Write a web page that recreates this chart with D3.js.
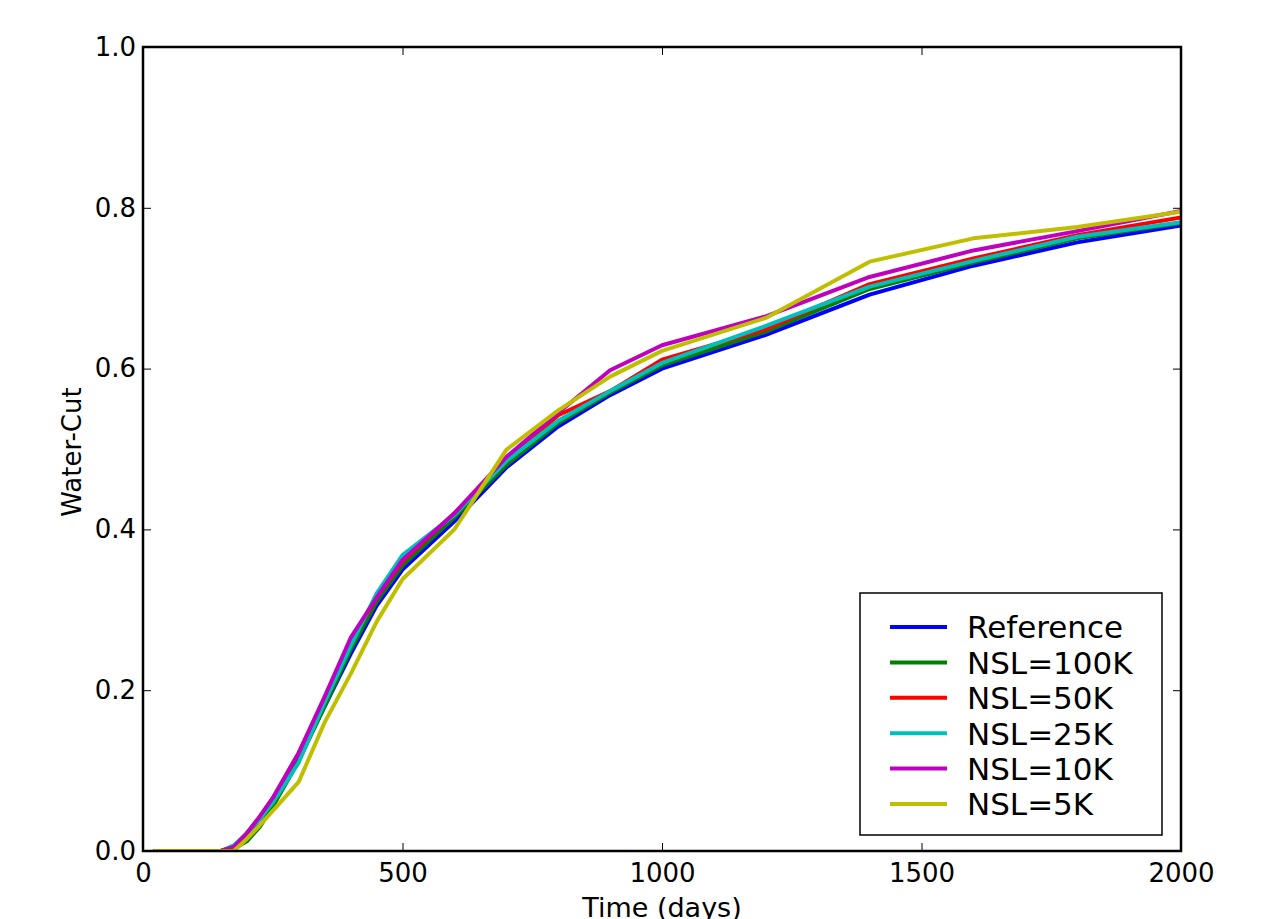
<!DOCTYPE html>
<html>
<head>
<meta charset="utf-8">
<script src="https://cdn.jsdelivr.net/npm/d3@7"></script>
<style>
  html, body { margin: 0; padding: 0; background: #fff; }
  svg { display: block; font-family: "DejaVu Sans", sans-serif; }
</style>
</head>
<body>
<div id="chart"></div>
<script>
// Water-cut vs time for the reference run and several NSL settings.
const times = [20, 50, 100, 150, 175, 200, 225, 250, 300, 350, 400, 450, 500, 600, 700, 800, 900, 1000, 1200, 1400, 1600, 1800, 2000];

const reference = [0, 0, 0, 0, 0.005, 0.020, 0.040, 0.060, 0.115, 0.180, 0.245, 0.305, 0.350, 0.410, 0.477, 0.528, 0.567, 0.600, 0.642, 0.692, 0.728, 0.757, 0.778];
const nsl100k  = [0, 0, 0, 0, 0.003, 0.012, 0.030, 0.055, 0.112, 0.180, 0.250, 0.310, 0.355, 0.415, 0.480, 0.532, 0.570, 0.604, 0.646, 0.699, 0.732, 0.762, 0.781];
const nsl50k   = [0, 0, 0, 0, 0.005, 0.022, 0.042, 0.065, 0.122, 0.190, 0.260, 0.315, 0.360, 0.420, 0.485, 0.542, 0.572, 0.611, 0.649, 0.705, 0.737, 0.766, 0.788];
const nsl25k   = [0, 0, 0, 0, 0.007, 0.022, 0.040, 0.060, 0.110, 0.185, 0.255, 0.320, 0.368, 0.418, 0.485, 0.535, 0.572, 0.607, 0.653, 0.702, 0.734, 0.764, 0.782];
const nsl10k   = [0, 0, 0, 0, 0.005, 0.022, 0.043, 0.066, 0.122, 0.192, 0.265, 0.315, 0.362, 0.420, 0.490, 0.545, 0.598, 0.629, 0.665, 0.714, 0.747, 0.771, 0.796];
const nsl5k    = [0, 0, 0, 0, 0, 0.015, 0.032, 0.050, 0.086, 0.160, 0.220, 0.285, 0.338, 0.400, 0.499, 0.548, 0.590, 0.622, 0.663, 0.733, 0.762, 0.776, 0.795];

const seriesNames = ["Reference", "NSL=100K", "NSL=50K", "NSL=25K", "NSL=10K", "NSL=5K"];
const seriesValues = [reference, nsl100k, nsl50k, nsl25k, nsl10k, nsl5k];
const seriesColors = ["#0000ff", "#008000", "#ff0000", "#00bfbf", "#bf00bf", "#bfbf00"];

const xTicks = [0, 500, 1000, 1500, 2000];
const yTicks = [0, 0.2, 0.4, 0.6, 0.8, 1.0];

const width = 1267, height = 919;
const margin = { left: 143, right: 1181, top: 47, bottom: 851 };

const svg = d3.select("#chart").append("svg")
    .attr("width", width)
    .attr("height", height);

svg.append("rect").attr("width", width).attr("height", height).attr("fill", "#fff");

const x = d3.scaleLinear().domain([0, 2000]).range([margin.left, margin.right]);
const y = d3.scaleLinear().domain([0, 1]).range([margin.bottom, margin.top]);

svg.append("defs").append("clipPath").attr("id", "plot-clip")
    .append("rect")
    .attr("x", margin.left).attr("y", margin.top)
    .attr("width", margin.right - margin.left)
    .attr("height", margin.bottom - margin.top);

// Lines
const line = d3.line().x((d, i) => x(times[i])).y(d => y(d));
const lineLayer = svg.append("g").attr("clip-path", "url(#plot-clip)");
seriesValues.forEach((vals, i) => {
    lineLayer.append("path")
        .datum(vals)
        .attr("d", line)
        .attr("fill", "none")
        .attr("stroke", seriesColors[i])
        .attr("stroke-width", 4)
        .attr("stroke-linejoin", "round");
});

// Axes with inward ticks (all four sides)
const tickLen = 8;
const styleAxis = g => {
    g.select(".domain").remove();
    g.selectAll(".tick line").attr("stroke", "#000").attr("stroke-width", 1);
    g.selectAll(".tick text").attr("fill", "#000").attr("font-size", 26)
        .attr("font-family", "DejaVu Sans, sans-serif");
};

svg.append("g")
    .attr("transform", `translate(0,${margin.bottom})`)
    .call(d3.axisBottom(x).tickValues(xTicks).tickSizeInner(-tickLen).tickSizeOuter(0)
        .tickPadding(13).tickFormat(d3.format("d")))
    .call(styleAxis);

svg.append("g")
    .attr("transform", `translate(0,${margin.top})`)
    .call(d3.axisTop(x).tickValues(xTicks).tickSizeInner(-tickLen).tickSizeOuter(0).tickFormat(""))
    .call(styleAxis);

svg.append("g")
    .attr("transform", `translate(${margin.left},0)`)
    .call(d3.axisLeft(y).tickValues(yTicks).tickSizeInner(-tickLen).tickSizeOuter(0)
        .tickPadding(7).tickFormat(d3.format(".1f")))
    .call(styleAxis);

svg.append("g")
    .attr("transform", `translate(${margin.right},0)`)
    .call(d3.axisRight(y).tickValues(yTicks).tickSizeInner(-tickLen).tickSizeOuter(0).tickFormat(""))
    .call(styleAxis);

// Frame
svg.append("rect")
    .attr("x", margin.left).attr("y", margin.top)
    .attr("width", margin.right - margin.left)
    .attr("height", margin.bottom - margin.top)
    .attr("fill", "none")
    .attr("stroke", "#000")
    .attr("stroke-width", 2.5);

// Axis labels
svg.append("text")
    .attr("x", (margin.left + margin.right) / 2)
    .attr("y", 917)
    .attr("text-anchor", "middle")
    .attr("font-size", 27)
    .text("Time (days)");

svg.append("text")
    .attr("transform", `translate(81,${(margin.top + margin.bottom) / 2 + 3}) rotate(-90)`)
    .attr("text-anchor", "middle")
    .attr("font-size", 26)
    .text("Water-Cut");

// Legend
const legend = svg.append("g");
legend.append("rect")
    .attr("x", 860).attr("y", 593)
    .attr("width", 302).attr("height", 242)
    .attr("fill", "#fff")
    .attr("stroke", "#000")
    .attr("stroke-width", 1.5);

const rowY = d3.scalePoint().domain(seriesNames).range([627, 804]);
seriesNames.forEach((name, i) => {
    const cy = rowY(name);
    legend.append("line")
        .attr("x1", 890).attr("x2", 947)
        .attr("y1", cy).attr("y2", cy)
        .attr("stroke", seriesColors[i])
        .attr("stroke-width", 4);
    legend.append("text")
        .attr("x", 967).attr("y", cy)
        .attr("dy", "0.37em")
        .attr("font-size", 31)
        .text(name);
});
</script>
</body>
</html>
